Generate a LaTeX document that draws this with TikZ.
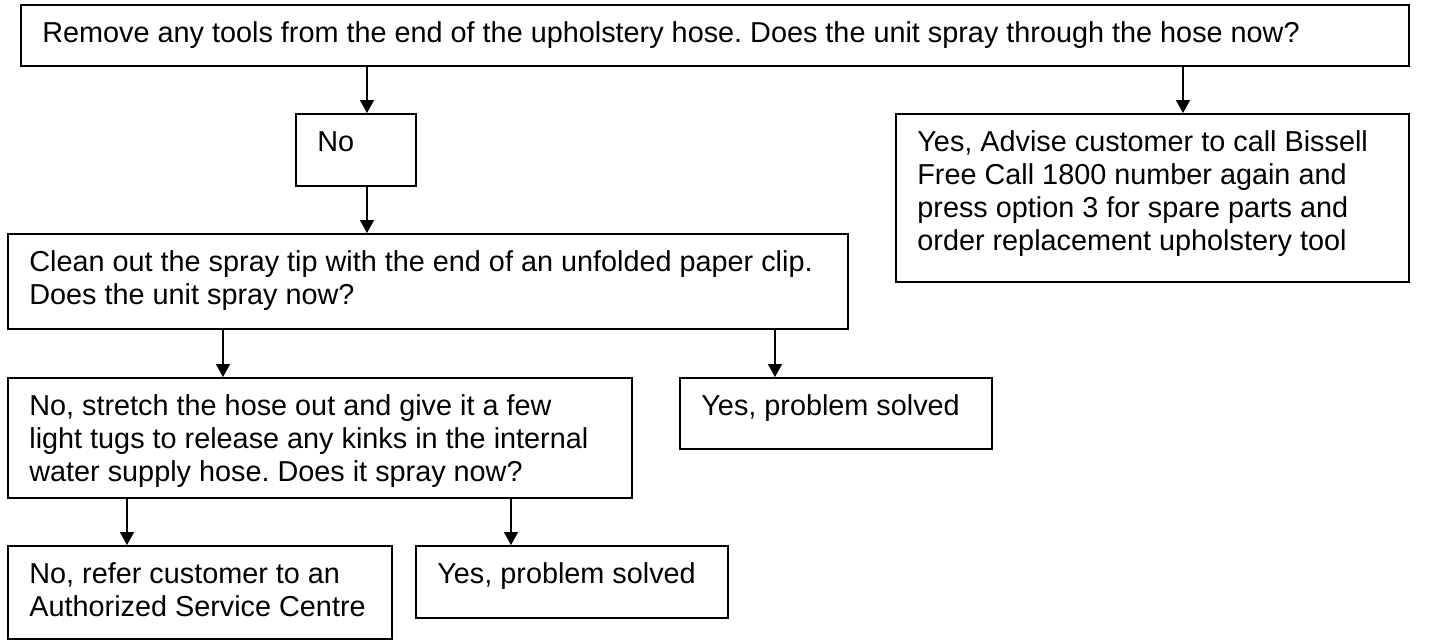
\documentclass[tikz,border=0pt]{standalone}
\usepackage{fontspec}
\setmainfont{Liberation Sans}
\usetikzlibrary{positioning, arrows.meta}
\tikzset{
  BX/.style={draw,line width=1pt,rectangle,anchor=north west,inner sep=0pt,align=flush left,text height=0.76cm,font=\fontsize{16.4pt}{18.7pt}\selectfont,execute at begin node={\frenchspacing\leftskip=0.43cm}},
  FL/.style={-{Triangle[width=0.28cm,length=0.26cm]},line width=0.8pt},
}
\begin{document}
\begin{tikzpicture}[x=0.02cm,y=-0.02cm]
\useasboundingbox (0,0) rectangle (1429,640);

% Boxes
\node[BX,text width=27.76cm,text depth=0.46cm](top)     at ( 20,  4){Remove any tools from the end of the upholstery hose. Does the unit spray through the hose now?};
\node[BX,text width= 2.40cm,text depth=0.68cm](no)      at (295,113){No};
\node[BX,text width=10.26cm,text depth=2.60cm](advise)  at (895,113){Yes, Advise customer to call Bissell\\Free Call 1800 number again and\\press option 3 for spare parts and\\order replacement upholstery tool};
\node[BX,text width=16.80cm,text depth=1.14cm](clean)   at (  7,233){Clean out the spray tip with the end of an unfolded paper clip.\\Does the unit spray now?};
\node[BX,text width=12.48cm,text depth=1.64cm](stretch) at (  7,377){No, stretch the hose out and give it a few\\light tugs to release any kinks in the internal\\water supply hose. Does it spray now?};
\node[BX,text width= 6.24cm,text depth=0.66cm](solvedA) at (679,377){Yes, problem solved};
\node[BX,text width= 7.68cm,text depth=1.10cm](refer)   at (  7,545){No, refer customer to an\\Authorized Service Centre};
\node[BX,text width= 6.24cm,text depth=0.68cm](solvedB) at (415,545){Yes, problem solved};

% Arrow columns
\coordinate (cA) at ( 367,0);
\coordinate (cB) at (1183,0);
\coordinate (cC) at ( 223,0);
\coordinate (cD) at ( 775,0);
\coordinate (cE) at ( 127,0);
\coordinate (cF) at ( 511,0);

% Arrows
\draw[FL](top.south -| cA)--(no.north -| cA);
\draw[FL](top.south -| cB)--(advise.north -| cB);
\draw[FL](no.south -| cA)--(clean.north -| cA);
\draw[FL](clean.south -| cC)--(stretch.north -| cC);
\draw[FL](clean.south -| cD)--(solvedA.north -| cD);
\draw[FL](stretch.south -| cE)--(refer.north -| cE);
\draw[FL](stretch.south -| cF)--(solvedB.north -| cF);

\end{tikzpicture}
\end{document}
